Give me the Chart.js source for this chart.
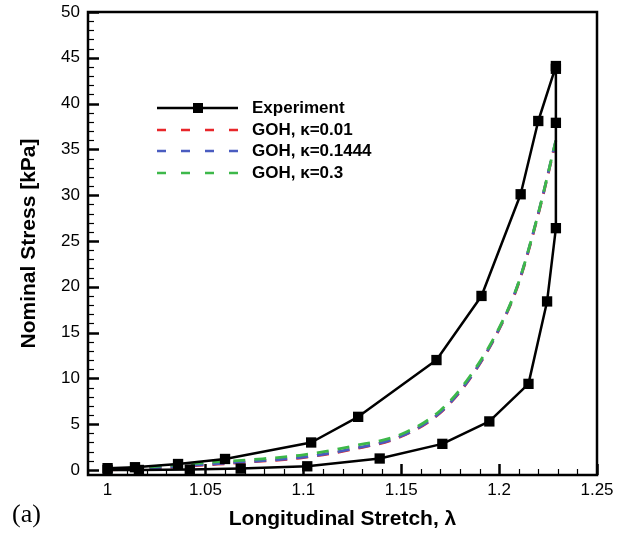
<!DOCTYPE html>
<html>
<head>
<meta charset="utf-8">
<script src="https://cdn.jsdelivr.net/npm/chart.js@4.4.1/dist/chart.umd.min.js"></script>
<style>
  html, body { margin: 0; padding: 0; background: #fff; }
  #wrap { width: 623px; height: 534px; }
</style>
</head>
<body>
<div id="wrap"><canvas id="stressChart" width="623" height="534"></canvas></div>
<script>
// Experiment: loading then unloading path
const expStretch = [1.0, 1.014, 1.036, 1.060, 1.104, 1.128, 1.168, 1.191, 1.211, 1.220, 1.229,
                    1.229, 1.229, 1.229, 1.2245, 1.215, 1.195, 1.171, 1.139, 1.102, 1.068, 1.042, 1.016, 1.0];
const expStress  = [0.2, 0.3, 0.65, 1.2, 3.0, 5.8, 12.0, 19.0, 30.1, 38.1, 44.1,
                    43.8, 37.9, 26.4, 18.4, 9.4, 5.3, 2.85, 1.25, 0.4, 0.15, 0.05, 0.0, 0.0];

// GOH model curves
const gohStretch = [1.0, 1.025, 1.05, 1.075, 1.1, 1.125, 1.15, 1.17, 1.185, 1.2, 1.21, 1.22, 1.229];
const goh001   = [0, 0.22, 0.55, 0.9, 1.35, 2.25, 3.65, 6.25, 9.95, 15.35, 20.4, 27.9, 35.9];
const goh01444 = [0, 0.25, 0.6, 0.95, 1.4, 2.3, 3.7, 6.3, 10.0, 15.4, 20.5, 28.0, 36.0];
const goh03    = [0.1, 0.4, 0.8, 1.15, 1.65, 2.6, 3.9, 6.5, 10.2, 15.5, 20.5, 28.0, 36.0];

const xTicks = [1, 1.05, 1.1, 1.15, 1.2, 1.25];
const yTicks = [0, 5, 10, 15, 20, 25, 30, 35, 40, 45, 50];

const legendItems = [
  { label: 'Experiment', color: '#000000', dash: [], marker: true },
  { label: 'GOH, \u03ba=0.01', color: '#e8262a', dash: [9, 15] },
  { label: 'GOH, \u03ba=0.1444', color: '#4a5cc0', dash: [9, 15] },
  { label: 'GOH, \u03ba=0.3', color: '#3db84a', dash: [9, 15] }
];

const toPoints = (xs, ys) => xs.map((x, i) => ({ x: x, y: ys[i] }));

// frame + inward ticks, legend and panel tag
const framePlugin = {
  id: 'frame',
  afterDraw(chart) {
    const { ctx, chartArea: a, scales } = chart;
    const xs = scales.x, ys = scales.y;
    ctx.save();
    ctx.strokeStyle = '#000';
    // minor + major ticks, pointing inside
    for (let v = 0; v <= 50; v += 1) {
      const py = Math.round(ys.getPixelForValue(v)) + 0.5;
      const len = v % 5 === 0 ? 11 : 6;
      ctx.lineWidth = v % 5 === 0 ? 2.5 : 1.2;
      ctx.beginPath(); ctx.moveTo(a.left, py); ctx.lineTo(a.left + len, py); ctx.stroke();
    }
    for (let k = 99; k <= 125; k += 1) {
      const px = Math.round(xs.getPixelForValue(k / 100)) + 0.5;
      const major = k % 5 === 0;
      ctx.lineWidth = major ? 2.5 : 1.2;
      const len = major ? 11 : 6;
      ctx.beginPath(); ctx.moveTo(px, a.bottom); ctx.lineTo(px, a.bottom - len); ctx.stroke();
    }
    ctx.lineWidth = 2.5;
    ctx.strokeRect(a.left, a.top, a.right - a.left, a.bottom - a.top);

    // legend
    const lx0 = 157, lx1 = 238, tx = 252;
    const rows = [108, 130, 151, 173];
    legendItems.forEach((it, i) => {
      const y = rows[i];
      ctx.strokeStyle = it.color;
      ctx.lineWidth = 2.5;
      ctx.setLineDash(it.dash);
      ctx.beginPath(); ctx.moveTo(lx0, y); ctx.lineTo(lx1, y); ctx.stroke();
      ctx.setLineDash([]);
      if (it.marker) {
        ctx.fillStyle = '#000';
        ctx.fillRect(193, y - 5, 10, 10);
      }
      ctx.fillStyle = '#000';
      ctx.font = 'bold 17px "Liberation Sans", Arial, sans-serif';
      ctx.textBaseline = 'middle';
      ctx.textAlign = 'left';
      ctx.fillText(it.label, tx, y);
    });

    // panel tag
    ctx.font = '26px "Liberation Serif", "Times New Roman", serif';
    ctx.textBaseline = 'middle';
    ctx.fillText('(a)', 12, 515);
    ctx.restore();
  }
};

const ctx = document.getElementById('stressChart').getContext('2d');
new Chart(ctx, {
  type: 'scatter',
  data: {
    datasets: [
      {
        label: 'Experiment',
        data: toPoints(expStretch, expStress),
        showLine: true,
        borderColor: '#000',
        backgroundColor: '#000',
        borderWidth: 2.5,
        borderJoinStyle: 'round',
        pointStyle: 'rect',
        pointRadius: 7.3,
        pointBorderWidth: 0,
        order: 0
      },
      {
        label: 'GOH, \u03ba=0.3',
        data: toPoints(gohStretch, goh03),
        showLine: true,
        borderColor: '#3db84a',
        borderWidth: 2.8,
        borderDash: [12, 9],
        pointRadius: 0,
        cubicInterpolationMode: 'monotone',
        order: 1
      },
      {
        label: 'GOH, \u03ba=0.1444',
        data: toPoints(gohStretch, goh01444),
        showLine: true,
        borderColor: '#4a5cc0',
        borderWidth: 2.8,
        borderDash: [12, 9],
        pointRadius: 0,
        cubicInterpolationMode: 'monotone',
        order: 2
      },
      {
        label: 'GOH, \u03ba=0.01',
        data: toPoints(gohStretch, goh001),
        showLine: true,
        borderColor: '#e8262a',
        borderWidth: 2.8,
        borderDash: [12, 9],
        pointRadius: 0,
        cubicInterpolationMode: 'monotone',
        order: 3
      }
    ]
  },
  options: {
    responsive: false,
    animation: false,
    layout: { padding: { left: 0, right: 26, top: 12, bottom: 0 } },
    plugins: {
      legend: { display: false },
      tooltip: { enabled: false }
    },
    scales: {
      x: {
        type: 'linear',
        min: 0.99,
        max: 1.25,
        afterFit: (s) => { s.height = 59; s.paddingLeft = 0; s.paddingRight = 0; },
        afterBuildTicks: (s) => { s.ticks = xTicks.map(v => ({ value: v })); },
        grid: { display: false, drawTicks: false },
        border: { display: false },
        ticks: {
          color: '#000',
          padding: 5,
          maxRotation: 0,
          autoSkip: false,
          font: { family: '"Liberation Sans", Arial, sans-serif', size: 17 },
          callback: (v) => String(v)
        },
        title: {
          display: true,
          text: 'Longitudinal Stretch, \u03bb',
          color: '#000',
          font: { family: '"Liberation Sans", Arial, sans-serif', size: 21, weight: 'bold' },
          padding: { top: 0, bottom: 2 }
        }
      },
      y: {
        type: 'linear',
        min: -0.55,
        max: 50,
        afterFit: (s) => { s.width = 88; s.paddingTop = 0; s.paddingBottom = 0; },
        afterBuildTicks: (s) => { s.ticks = yTicks.map(v => ({ value: v })); },
        grid: { display: false, drawTicks: false },
        border: { display: false },
        ticks: {
          color: '#000',
          padding: 8,
          autoSkip: false,
          font: { family: '"Liberation Sans", Arial, sans-serif', size: 17 }
        },
        title: {
          display: true,
          text: 'Nominal Stress [kPa]',
          color: '#000',
          font: { family: '"Liberation Sans", Arial, sans-serif', size: 21, weight: 'bold' },
          padding: { top: 17, bottom: 0 }
        }
      }
    }
  },
  plugins: [framePlugin]
});
</script>
</body>
</html>
